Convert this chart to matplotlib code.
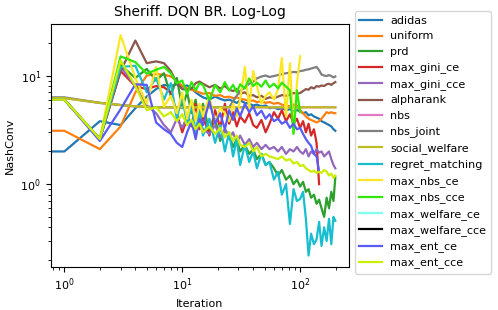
"""Sheriff DQN BR NashConv 曲线 (log-log)."""

import matplotlib
matplotlib.use("Agg")
import matplotlib.pyplot as plt
import numpy as np

nan = np.nan

# 迭代次数 (采样点)
iters = [0, 1, 2, 3, 4, 5, 6, 7, 8, 9, 10, 11, 12, 13, 14, 15,
         17, 19, 21, 23, 25, 27, 29, 31,
         34, 37, 40, 43, 47, 51, 55,
         60, 65, 70, 76, 82, 88, 94,
         100, 106, 112, 118, 124, 131, 138, 145,
         152, 160, 168, 176, 184, 192, 199]

adidas = [2.0, 2.0, 3.8, 3.5, 5.0, 6.4, 7.5, 8.2, 8.0, 8.3, 7.9, 8.1, 7.6, 7.0, 6.6, 6.3,
          6.0, 6.4, 6.1, 5.9, 6.0, 5.8, 5.6, 5.9,
          5.6, 5.5, 5.3, 5.4, 5.2, 5.3, 5.0,
          5.1, 4.9, 5.0, 4.8, 4.9, 4.7, 4.8,
          4.7, 4.5, 4.6, 4.3, 4.4, 4.2, 4.1, 4.0,
          3.8, 3.7, 3.6, 3.5, 3.4, 3.2, 3.1]

uniform = [3.1, 3.1, 2.1, 3.4, 7.0, 10.0, 10.3, 10.2, 9.8, 9.0, 8.0, 7.6, 7.4, 7.2, 7.0, 6.8,
           6.9, 6.5, 6.6, 6.3, 6.4, 6.2, 6.3, 6.1,
           6.0, 5.8, 5.9, 5.7, 5.8, 5.6, 5.7,
           5.5, 5.6, 5.4, 5.3, 5.2, 5.4, 5.3,
           4.8, 4.5, 4.2, 4.0, 3.9, 3.8, 3.7, 3.8,
           4.0, 4.3, 4.6, 4.5, 4.6, 4.5, 4.5]

prd = [6.0, 6.0, 2.6, 12.5, 9.5, 11.5, 9.0, 10.5, 6.5, 9.5, 5.0, 7.0, 4.5, 6.0, 3.5, 5.5,
       3.0, 4.0, 2.5, 3.2, 2.8, 2.2, 2.6, 2.0,
       2.3, 1.9, 2.1, 1.7, 1.9, 1.5, 1.6,
       1.4, 1.2, 1.35, 1.1, 1.2, 1.0, 1.1,
       0.95, 1.05, 0.85, 0.9, 0.75, 0.8, 0.66, 0.72,
       0.6, 0.5, 0.75, 0.6, 0.85, 0.7, 1.15]

max_gini_ce = [6.0, 6.0, 2.6, 11.0, 8.0, 7.5, 8.0, 7.8, 7.0, 4.5, 3.0, 4.0, 3.4, 5.5, 3.2, 4.2,
               2.8, 4.8, 3.3, 5.5, 3.6, 4.6, 3.4, 4.2,
               3.7, 4.5, 3.5, 3.3, 3.9, 3.0, 3.6,
               4.6, 4.0, 4.8, 3.8, 4.4, 3.6, 4.0,
               3.3, 3.8, 3.0, 3.6, 2.8, 3.2, 2.4, 1.0,
               nan, nan, nan, nan, nan, nan, nan]

max_gini_cce = [6.0, 6.0, 2.6, 12.0, 8.0, 5.3, 4.5, 3.5, 3.0, 4.0, 3.3, 4.2, 3.6, 3.0, 3.8, 3.2,
                2.9, 3.5, 2.7, 3.2, 2.6, 3.0, 2.4, 2.8,
                2.3, 2.6, 2.2, 2.4, 2.1, 2.3, 2.1,
                2.2, 2.0, 2.2, 1.9, 2.1, 2.0, 2.2,
                2.0, 1.9, 2.1, 1.8, 2.0, 1.9, 2.1, 1.95,
                2.0, 1.8, 1.9, 2.0, 1.7, 1.5, 1.4]

alpharank = [6.0, 6.0, 2.6, 11.0, 21.0, 13.0, 13.5, 13.0, 11.0, 8.5, 7.5, 7.4, 7.6, 8.5, 8.8, 8.4,
             7.8, 8.2, 7.6, 8.0, 7.4, 7.2, 7.5, 6.8,
             7.0, 6.5, 6.6, 6.3, 6.5, 6.1, 6.3,
             6.2, 6.4, 6.6, 6.5, 6.7, 6.9, 6.8,
             6.9, 7.2, 7.5, 7.4, 7.8, 7.6, 8.0, 7.9,
             8.1, 8.0, 8.3, 8.4, 8.2, 8.5, 8.7]

# nbs / social_welfare 收敛到同一个常数
flat_iters = [0, 1, 2, 3, 4, 5, 6, 199]
nbs = [6.2, 6.2, 5.6, 5.35, 5.2, 5.15, 5.1, 5.1]
social_welfare = [6.2, 6.2, 5.6, 5.35, 5.2, 5.15, 5.1, 5.1]

nbs_joint = [6.3, 6.3, 5.6, 5.35, 5.2, 5.15, 5.1, 5.1, 5.1, 5.1, 5.1, 5.1, 5.1, 5.1, 5.1, 5.1,
             5.1, 5.1, 5.1, 5.1, 5.1, 5.8, 6.5, 7.2,
             7.8, 8.4, 8.8, 9.4, 9.8, 10.0, 9.7,
             9.9, 10.1, 10.3, 10.5, 10.6, 10.8, 10.7,
             11.0, 11.1, 11.3, 11.4, 11.6, 11.8, 12.0, 11.2,
             10.2, 10.0, 9.9, 10.1, 9.9, 9.6, 9.8]

regret_matching = [6.0, 6.0, 2.6, 12.0, 12.3, 7.0, 9.5, 6.0, 8.5, 4.0, 6.5, 3.5, 5.5, 3.0, 4.8, 2.8,
                   4.0, 2.4, 3.5, 2.0, 3.0, 1.8, 2.6, 1.5,
                   2.3, 1.6, 2.0, 1.4, 1.9, 1.5, 1.6,
                   1.1, 1.3, 0.8, 1.0, 0.43, 0.9, 0.7,
                   0.73, 0.85, 0.48, 0.22, 0.35, 0.28, 0.31, 0.45,
                   0.27, 0.4, 0.3, 0.48, 0.28, 0.5, 0.46]

max_nbs_ce = [6.0, 6.0, 2.6, 23.5, 9.5, 5.5, 12.0, 5.2, 6.5, 4.5, 7.0, 4.0, 6.0, 3.8, 5.5, 4.2,
              6.5, 3.6, 5.0, 4.5, 3.8, 5.5, 4.2, 6.0,
              12.0, 5.0, 11.0, 8.0, 5.5, 6.5, 7.0,
              6.0, 7.5, 14.5, 4.2, 13.0, 3.0, 8.4,
              15.0, nan, nan, nan, nan, nan, nan, nan,
              nan, nan, nan, nan, nan, nan, nan]

max_nbs_cce = [6.0, 6.0, 2.6, 15.0, 13.3, 10.4, 11.3, 12.0, 10.5, 8.5, 9.0, 6.8, 8.7, 7.3, 8.5, 8.2,
               5.9, 8.2, 7.0, 8.7, 7.3, 8.2, 7.0, 8.3,
               7.6, 9.4, 8.0, 8.6, 7.9, 9.0, 7.8,
               8.4, 7.6, 8.6, 7.9, 7.3, 2.9, 7.3,
               4.6, nan, nan, nan, nan, nan, nan, nan,
               nan, nan, nan, nan, nan, nan, nan]

# 这两条在图中没有可见的线
max_welfare_ce = []
max_welfare_cce = []

max_ent_ce = [6.0, 6.0, 2.5, 4.9, 8.3, 8.2, 3.7, 3.2, 2.9, 2.4, 2.2, 3.0, 3.8, 2.6, 4.0, 3.5,
              5.8, 3.6, 4.5, 3.2, 4.8, 3.9, 5.0, 4.2,
              5.5, 4.6, 5.2, 4.3, 4.75, 4.0, 4.4,
              3.8, 4.0, 3.6, 3.8, 3.3, 3.6, 3.2,
              3.3, 2.9, 2.6, 2.4, 2.25, 1.9, 1.8, 1.3,
              nan, nan, nan, nan, nan, nan, nan]

max_ent_cce = [6.0, 6.0, 2.6, 13.8, 8.0, 4.8, 5.1, 4.2, 4.6, 3.8, 4.4, 3.5, 3.9, 3.2, 3.6, 3.0,
               3.4, 2.9, 3.3, 2.7, 3.0, 2.5, 2.8, 2.3,
               2.2, 2.4, 2.0, 2.2, 1.8, 1.9, 1.8,
               1.75, 1.7, 1.8, 1.65, 1.7, 1.55, 1.6,
               1.47, 1.5, 1.4, 1.35, 1.3, 1.33, 1.27, 1.3,
               1.27, 1.35, 1.3, 1.2, 1.25, 1.14, 1.2]

series = [
    ("adidas", iters, adidas, "#1f77b4"),
    ("uniform", iters, uniform, "#ff7f0e"),
    ("prd", iters, prd, "#2ca02c"),
    ("max_gini_ce", iters, max_gini_ce, "#d62728"),
    ("max_gini_cce", iters, max_gini_cce, "#9467bd"),
    ("alpharank", iters, alpharank, "#8c564b"),
    ("nbs", flat_iters, nbs, "#e377c2"),
    ("nbs_joint", iters, nbs_joint, "#7f7f7f"),
    ("social_welfare", flat_iters, social_welfare, "#bcbd22"),
    ("regret_matching", iters, regret_matching, "#17becf"),
    ("max_nbs_ce", iters, max_nbs_ce, "#fde725"),
    ("max_nbs_cce", iters, max_nbs_cce, "#2ee80a"),
    ("max_welfare_ce", [], max_welfare_ce, "#7ffff0"),
    ("max_welfare_cce", [], max_welfare_cce, "#000000"),
    ("max_ent_ce", iters, max_ent_ce, "#5a5af5"),
    ("max_ent_cce", iters, max_ent_cce, "#ccee00"),
]

fig = plt.figure(figsize=(4.98, 3.10), dpi=100)
ax = fig.add_axes([0.102, 0.139, 0.598, 0.784])

for name, xs, ys, color in series:
    ax.plot(xs, ys, color=color, linewidth=1.6, label=name)

ax.set_xscale("log")
ax.set_yscale("log")
ax.set_xlim(0.767, 258)
ax.set_ylim(0.173, 29.9)
ax.set_xlabel("Iteration", fontsize=8)
ax.set_ylabel("NashConv", fontsize=8)
ax.set_title("Sheriff. DQN BR. Log-Log", fontsize=10)
ax.tick_params(labelsize=8)

ax.legend(loc="upper left", bbox_to_anchor=(1.01, 1.065), fontsize=8,
          borderaxespad=0.3)

fig.savefig("out.png", dpi=100)
